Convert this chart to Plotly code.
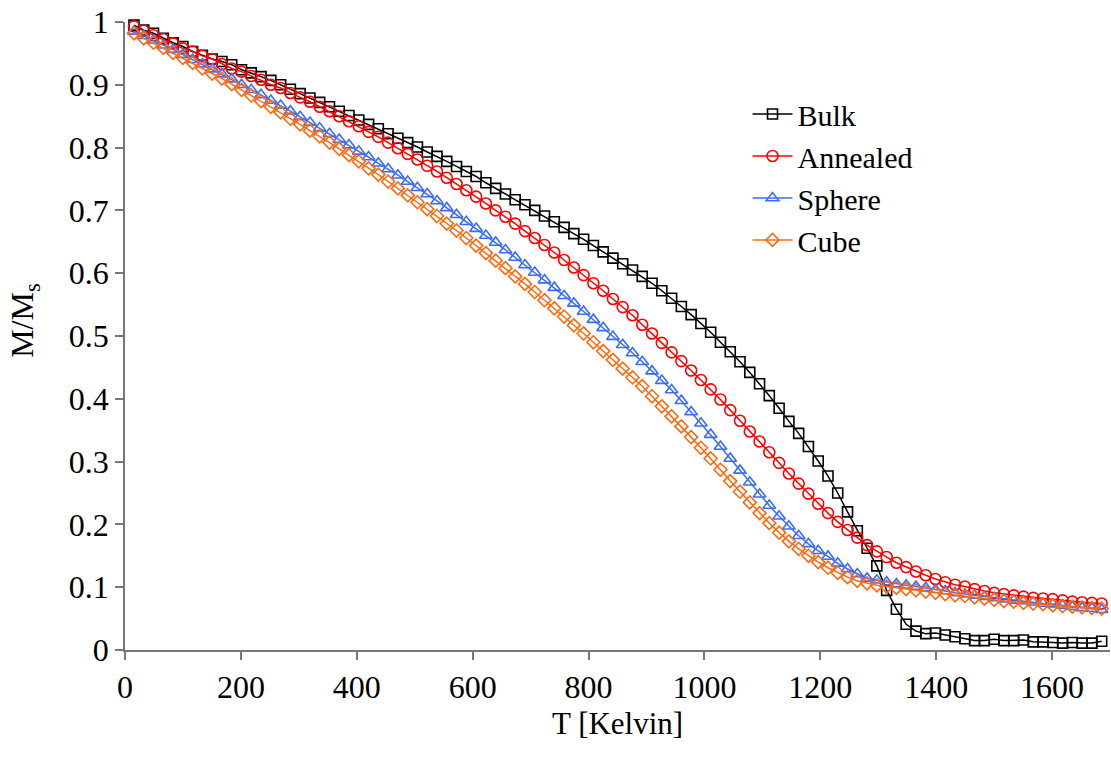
import plotly.graph_objects as go

# Temperature grid (K), 100 equally spaced samples
T = [round(15.5 + 16.87 * k, 1) for k in range(100)]

bulk = [
    0.995, 0.987, 0.982, 0.974, 0.967, 0.961, 0.953, 0.947, 0.941, 0.937,
    0.932, 0.924, 0.919, 0.913, 0.907, 0.900, 0.893, 0.886, 0.879, 0.872,
    0.865, 0.858, 0.851, 0.844, 0.837, 0.830, 0.822, 0.815, 0.808, 0.801,
    0.793, 0.786, 0.778, 0.770, 0.762, 0.754, 0.744, 0.735, 0.726, 0.717,
    0.709, 0.700, 0.691, 0.682, 0.673, 0.663, 0.654, 0.644, 0.634, 0.624,
    0.615, 0.605, 0.595, 0.584, 0.572, 0.560, 0.547, 0.534, 0.520, 0.506,
    0.490, 0.475, 0.459, 0.442, 0.424, 0.405, 0.385, 0.364, 0.345, 0.324,
    0.301, 0.277, 0.250, 0.220, 0.190, 0.162, 0.134, 0.095, 0.065, 0.041,
    0.030, 0.026, 0.027, 0.024, 0.021, 0.018, 0.015, 0.015, 0.017, 0.015,
    0.015, 0.016, 0.013, 0.013, 0.012, 0.011, 0.012, 0.011, 0.011, 0.014,
]

annealed = [
    0.993, 0.986, 0.979, 0.973, 0.966, 0.958, 0.953, 0.946, 0.941, 0.933,
    0.926, 0.921, 0.914, 0.908, 0.900, 0.895, 0.887, 0.880, 0.873, 0.865,
    0.858, 0.850, 0.842, 0.834, 0.825, 0.817, 0.808, 0.799, 0.790, 0.781,
    0.771, 0.762, 0.752, 0.742, 0.732, 0.722, 0.711, 0.700, 0.690, 0.679,
    0.667, 0.656, 0.645, 0.633, 0.621, 0.609, 0.597, 0.584, 0.572, 0.559,
    0.546, 0.533, 0.518, 0.504, 0.489, 0.474, 0.460, 0.445, 0.430, 0.415,
    0.399, 0.382, 0.365, 0.348, 0.332, 0.315, 0.298, 0.281, 0.265, 0.249,
    0.233, 0.218, 0.204, 0.191, 0.179, 0.167, 0.157, 0.148, 0.139, 0.132,
    0.125, 0.119, 0.113, 0.108, 0.104, 0.101, 0.097, 0.094, 0.091, 0.089,
    0.087, 0.085, 0.083, 0.082, 0.081, 0.079, 0.077, 0.076, 0.075, 0.074,
]

sphere = [
    0.985, 0.978, 0.971, 0.963, 0.956, 0.948, 0.940, 0.933, 0.925, 0.917,
    0.909, 0.900, 0.892, 0.884, 0.875, 0.867, 0.858, 0.849, 0.840, 0.831,
    0.822, 0.813, 0.804, 0.794, 0.785, 0.775, 0.766, 0.756, 0.746, 0.736,
    0.726, 0.715, 0.704, 0.693, 0.682, 0.671, 0.660, 0.649, 0.637, 0.625,
    0.613, 0.601, 0.589, 0.577, 0.564, 0.552, 0.539, 0.526, 0.513, 0.499,
    0.486, 0.473, 0.459, 0.444, 0.429, 0.414, 0.397, 0.379, 0.361, 0.343,
    0.324, 0.305, 0.286, 0.267, 0.248, 0.230, 0.213, 0.197, 0.182, 0.169,
    0.158, 0.149, 0.138, 0.129, 0.121, 0.114, 0.111, 0.108, 0.105, 0.103,
    0.101, 0.099, 0.096, 0.094, 0.091, 0.089, 0.087, 0.085, 0.083, 0.081,
    0.079, 0.078, 0.076, 0.074, 0.073, 0.071, 0.069, 0.067, 0.066, 0.064,
]

cube = [
    0.982, 0.974, 0.967, 0.959, 0.951, 0.943, 0.935, 0.926, 0.918, 0.910,
    0.901, 0.892, 0.883, 0.874, 0.865, 0.856, 0.846, 0.837, 0.827, 0.818,
    0.808, 0.798, 0.788, 0.778, 0.767, 0.757, 0.746, 0.735, 0.724, 0.713,
    0.702, 0.691, 0.679, 0.668, 0.656, 0.644, 0.632, 0.620, 0.608, 0.595,
    0.583, 0.570, 0.557, 0.544, 0.531, 0.517, 0.504, 0.490, 0.476, 0.462,
    0.448, 0.434, 0.420, 0.404, 0.388, 0.372, 0.356, 0.339, 0.322, 0.305,
    0.287, 0.269, 0.252, 0.235, 0.218, 0.202, 0.187, 0.173, 0.161, 0.150,
    0.140, 0.131, 0.123, 0.116, 0.110, 0.106, 0.103, 0.101, 0.099, 0.097,
    0.095, 0.093, 0.091, 0.089, 0.087, 0.086, 0.084, 0.082, 0.080, 0.078,
    0.077, 0.075, 0.074, 0.073, 0.071, 0.070, 0.069, 0.068, 0.067, 0.066,
]

x_ticks = [0, 200, 400, 600, 800, 1000, 1200, 1400, 1600]
y_ticks = [0, 0.1, 0.2, 0.3, 0.4, 0.5, 0.6, 0.7, 0.8, 0.9, 1]
y_tick_text = ["0", "0.1", "0.2", "0.3", "0.4", "0.5", "0.6", "0.7", "0.8", "0.9", "1"]

series = [
    ("Bulk", bulk, "#000000", "square-open", 10),
    ("Annealed", annealed, "#ff0000", "circle-open", 11),
    ("Sphere", sphere, "#3a6cff", "triangle-up-open", 11),
    ("Cube", cube, "#ff6a10", "diamond-open", 10),
]

FONT = "Liberation Serif"
FS = 32

fig = go.Figure()
for i, (name, vals, color, sym, size) in enumerate(series):
    fig.add_trace(go.Scatter(
        x=T, y=vals, name=name, mode="lines+markers",
        line=dict(color=color, width=1.5),
        marker=dict(symbol=sym, size=size, color=color,
                    line=dict(color=color, width=1.6)),
        cliponaxis=False,
    ))

axis_common = dict(
    showgrid=False, zeroline=False, showline=True, automargin=False,
    linecolor="#777777", linewidth=1.5,
    ticks="outside", ticklen=8, tickwidth=1.5, tickcolor="#777777",
    tickfont=dict(family=FONT, size=FS, color="black"),
    ticklabeloverflow="allow",
)

fig.update_layout(
    width=1111, height=764,
    margin=dict(l=125, r=1, t=22, b=114),
    paper_bgcolor="white", plot_bgcolor="white",
    font=dict(family=FONT, size=FS, color="black"),
    xaxis=dict(range=[0, 1700], tickvals=x_ticks, ticklabelstandoff=0, **axis_common),
    yaxis=dict(range=[0, 1], tickvals=y_ticks, ticktext=y_tick_text, **axis_common),
    legend=dict(x=0.632, y=0.895, xanchor="left", yanchor="top",
                font=dict(family=FONT, size=30), tracegroupgap=0,
                bgcolor="rgba(0,0,0,0)", itemwidth=40),
    showlegend=True,
    annotations=[
        dict(text="T [Kelvin]", xref="paper", yref="paper", x=0.5, y=-0.117,
             xanchor="center", yanchor="middle", showarrow=False,
             font=dict(family=FONT, size=31)),
        dict(text="M/M<sub>s</sub>", xref="paper", yref="paper", x=-0.102, y=0.525,
             xanchor="center", yanchor="middle", textangle=-90, showarrow=False,
             font=dict(family=FONT, size=FS)),
    ],
)

fig.write_html("out.html", config={"displayModeBar": False},
               post_script="document.body.style.margin='0';document.body.style.overflow='hidden';")
